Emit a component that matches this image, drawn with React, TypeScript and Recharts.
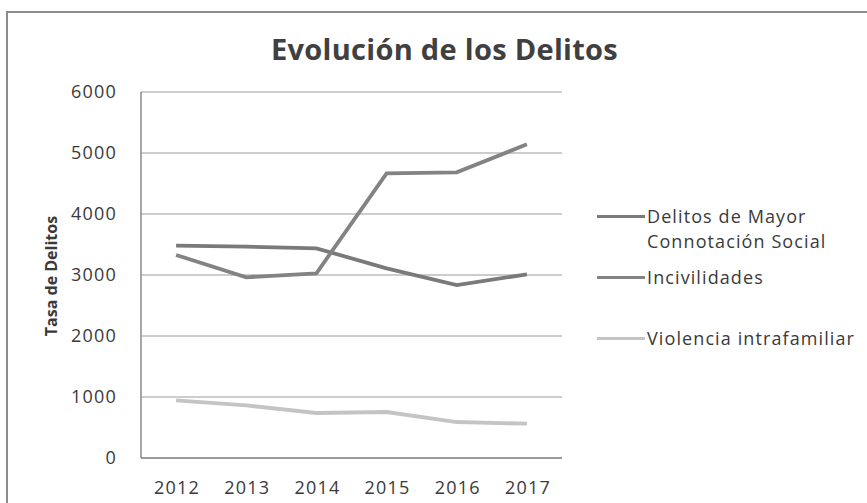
import React from 'react';
import { LineChart, Line, XAxis, YAxis, CartesianGrid, Legend, Label } from 'recharts';

const years = ['2012', '2013', '2014', '2015', '2016', '2017'];
const delitos = [3480, 3465, 3437, 3110, 2836, 3011];
const incivilidades = [3328, 2962, 3028, 4667, 4683, 5142];
const violencia = [944, 862, 738, 754, 590, 562];
const yTicks = [0, 1000, 2000, 3000, 4000, 5000, 6000];

const seriesNames = ['Delitos de Mayor Connotación Social', 'Incivilidades', 'Violencia intrafamiliar'];
const seriesKeys = ['delitos', 'incivilidades', 'violencia'];
const seriesColors = ['#7a7a7a', '#838383', '#c4c4c4'];

const data = years.map((y, i) => ({
  year: y,
  delitos: delitos[i],
  incivilidades: incivilidades[i],
  violencia: violencia[i],
}));

const FONT = '"Open Sans", "Noto Sans", sans-serif';

const legendLines: Record<string, string[]> = {
  'Delitos de Mayor Connotación Social': ['Delitos de Mayor', 'Connotación Social'],
};

const CustomLegend = (props: any) => {
  const payload = props.payload || [];
  return (
    <div style={{ position: 'relative', width: 270, height: 160 }}>
      {payload.map((p: any, i: number) => {
        const lines = legendLines[p.value] || [p.value];
        return (
          <div key={p.value} style={{ position: 'absolute', left: 0, top: i * 61, width: 270 }}>
            <div style={{ position: 'absolute', left: 0, top: 11, width: 48, height: 3, background: p.color }} />
            <div style={{ position: 'absolute', left: 50, top: 0, fontFamily: FONT, fontSize: 18, lineHeight: '25px', color: '#3a3a3a', letterSpacing: 1.1, whiteSpace: 'nowrap' }}>
              {lines.map((l) => (
                <div key={l}>{l}</div>
              ))}
            </div>
          </div>
        );
      })}
    </div>
  );
};

export default function App() {
  return (
    <div style={{ position: 'absolute', left: 0, top: 0, width: 867, height: 503, background: '#fff', overflow: 'hidden' }}>
      <div style={{ position: 'absolute', left: 6, top: 11, width: 900, height: 520, border: '2px solid #8c8c8c', boxSizing: 'border-box' }} />
      <div style={{ position: 'absolute', left: 0, top: 29, width: 889, textAlign: 'center', fontFamily: FONT, fontWeight: 700, fontSize: 29, color: '#404040', lineHeight: '40px', letterSpacing: 0.3 }}>
        Evolución de los Delitos
      </div>
      <div style={{ position: 'absolute', left: 0, top: 0 }}>
        <LineChart width={867} height={503} data={data} margin={{ top: 92, right: 305, bottom: 0, left: 0 }}>
          <CartesianGrid vertical={false} stroke="#9a9a9a" strokeWidth={1} />
          <XAxis
            dataKey="year"
            scale="band"
            height={45}
            tickLine={false}
            axisLine={{ stroke: '#8a8a8a', strokeWidth: 1.5 }}
            tick={{ fontFamily: FONT, fontSize: 18, fill: '#3a3a3a', letterSpacing: 1.2, dx: 1 }}
            tickMargin={17}
            interval={0}
          />
          <YAxis
            width={141}
            domain={[0, 6000]}
            ticks={yTicks}
            tickLine={false}
            axisLine={{ stroke: '#8a8a8a', strokeWidth: 1.5 }}
            tick={{ fontFamily: FONT, fontSize: 18, fill: '#3a3a3a', letterSpacing: 1.2 }}
            tickMargin={18}
            interval={0}
          >
            <Label
              content={() => (
                <text
                  x={51}
                  y={276}
                  transform="rotate(-90 51 276)"
                  textAnchor="middle"
                  dominantBaseline="central"
                  fontFamily={FONT}
                  fontWeight={700}
                  fontSize={16}
                  fill="#3a3a3a"
                >
                  Tasa de Delitos
                </text>
              )}
            />
          </YAxis>
          {seriesKeys.map((k, i) => (
            <Line
              key={k}
              type="linear"
              dataKey={k}
              name={seriesNames[i]}
              stroke={seriesColors[i]}
              strokeWidth={3.8}
              dot={false}
              activeDot={false}
              isAnimationActive={false}
            />
          ))}
          <Legend
            layout="horizontal"
            align="center"
            verticalAlign="middle"
            content={<CustomLegend />}
            wrapperStyle={{ position: 'absolute', left: 597, top: 204, width: 270, height: 160 }}
          />
        </LineChart>
      </div>
    </div>
  );
}
